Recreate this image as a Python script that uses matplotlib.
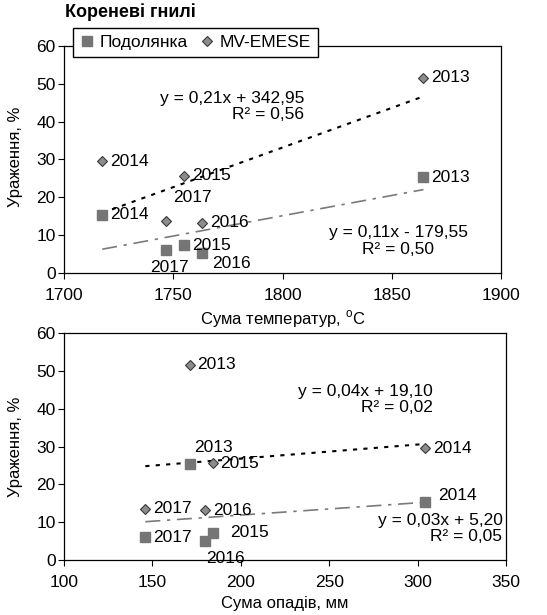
import matplotlib.pyplot as plt
import numpy as np

plt.rcParams['font.family'] = ['Liberation Sans', 'DejaVu Sans']
plt.rcParams['font.size'] = 12

years = ['2013', '2014', '2015', '2016', '2017']
temp_sum = [1864.5, 1717.5, 1755, 1763, 1746.5]
rain_sum = [171, 304, 184, 180, 146]
podolyanka = [25.3, 15.3, 7.2, 5.1, 6.0]
mv_emese = [51.6, 29.5, 25.6, 13.2, 13.6]

# label offsets in pixels (dx, dy, ha)
R = (8, 0, 'left')
top_pod_off = [R, R, R, (10, -10, 'left'), (4, -17, 'center')]
top_mv_off = [R, R, R, R, (27, 24, 'center')]
bot_pod_off = [(24, 17, 'center'), (33, 7, 'center'), (18, 0, 'left'), (20, -18, 'center'), R]
bot_mv_off = [R, R, R, R, R]

sq_color = '#757575'
dm_face = '#8c8c8c'
dm_edge = '#3a3a3a'
FS = 12.5

fig = plt.figure(figsize=(5.47, 6.15), dpi=100)
ax1 = fig.add_axes([0.117, 0.5566, 0.799, 0.3685])
ax2 = fig.add_axes([0.117, 0.0894, 0.808, 0.3691])


def draw(ax, xs, pod_off, mv_off, pod_style, mv_style):
    sq, = ax.plot(xs, podolyanka, 's', ms=6.5, color=sq_color, mec=sq_color,
                  label='Подолянка', zorder=3)
    dm, = ax.plot(xs, mv_emese, 'D', ms=5, mfc=dm_face, mec=dm_edge, mew=0.8,
                  label='MV-EMESE', zorder=3)
    xr = np.array([min(xs), max(xs)])
    k, b = np.polyfit(xs, podolyanka, 1)
    ax.plot(xr, k * xr + b, color='#7a7a7a', lw=1.2, ls=pod_style, zorder=2)
    k, b = np.polyfit(xs, mv_emese, 1)
    ax.plot(xr, k * xr + b, color='black', lw=1.5, ls=mv_style, zorder=2)
    for x, y, yr, (dx, dy, ha) in zip(xs, podolyanka, years, pod_off):
        ax.annotate(yr, (x, y), xytext=(dx, dy), textcoords='offset pixels',
                    ha=ha, va='center', fontsize=FS)
    for x, y, yr, (dx, dy, ha) in zip(xs, mv_emese, years, mv_off):
        ax.annotate(yr, (x, y), xytext=(dx, dy), textcoords='offset pixels',
                    ha=ha, va='center', fontsize=FS)
    ax.set_ylim(0, 60)
    ax.set_yticks(range(0, 61, 10))
    ax.tick_params(direction='out', length=4, labelsize=FS)
    ax.tick_params(axis='y', pad=2)
    ax.tick_params(axis='x', pad=7)
    ax.set_ylabel('Ураження, %', fontsize=12)
    for s in ax.spines.values():
        s.set_linewidth(0.9)
    return sq, dm


pod_ls = (0, (9, 4, 2, 4))
mv_ls = (0, (2, 3))

sq, dm = draw(ax1, temp_sum, top_pod_off, top_mv_off, pod_ls, mv_ls)
ax1.set_xlim(1700, 1900)
ax1.set_xticks(range(1700, 1901, 50))
ax1.set_xlabel('Сума температур, $^{\\mathregular{o}}$C', fontsize=12, labelpad=4)
ax1.yaxis.set_label_coords(-0.094, 0.51)

ax1.text(0.549, 0.735, 'y = 0,21x + 342,95\nR² = 0,56', transform=ax1.transAxes,
         ha='right', va='center', multialignment='right', fontsize=FS, linespacing=1.1)
ax1.text(0.924, 0.14, 'y = 0,11x - 179,55\nR² = 0,50', transform=ax1.transAxes,
         ha='right', va='center', multialignment='center', fontsize=FS, linespacing=1.1)

ax1.legend([sq, dm], ['Подолянка', 'MV-EMESE'], loc='upper left',
           bbox_to_anchor=(0.02, 1.08), borderaxespad=0, ncol=2, fontsize=FS,
           frameon=True, fancybox=False, edgecolor='black', framealpha=1,
           handlelength=0.8, handletextpad=0.35, columnspacing=0.7, borderpad=0.4)

fig.text(0.119, 0.98, 'Кореневі гнилі', fontsize=13, fontweight='bold',
         ha='left', va='center')

draw(ax2, rain_sum, bot_pod_off, bot_mv_off, pod_ls, mv_ls)
ax2.set_xlim(100, 350)
ax2.set_xticks(range(100, 351, 50))
ax2.set_xlabel('Сума опадів, мм', fontsize=12, labelpad=4)
ax2.yaxis.set_label_coords(-0.093, 0.5)

ax2.text(0.834, 0.707, 'y = 0,04x + 19,10\nR² = 0,02', transform=ax2.transAxes,
         ha='right', va='center', multialignment='right', fontsize=FS, linespacing=1.1)
ax2.text(0.992, 0.139, 'y = 0,03x + 5,20\nR² = 0,05', transform=ax2.transAxes,
         ha='right', va='center', multialignment='right', fontsize=FS, linespacing=1.1)

fig.savefig('out.png', dpi=100)
